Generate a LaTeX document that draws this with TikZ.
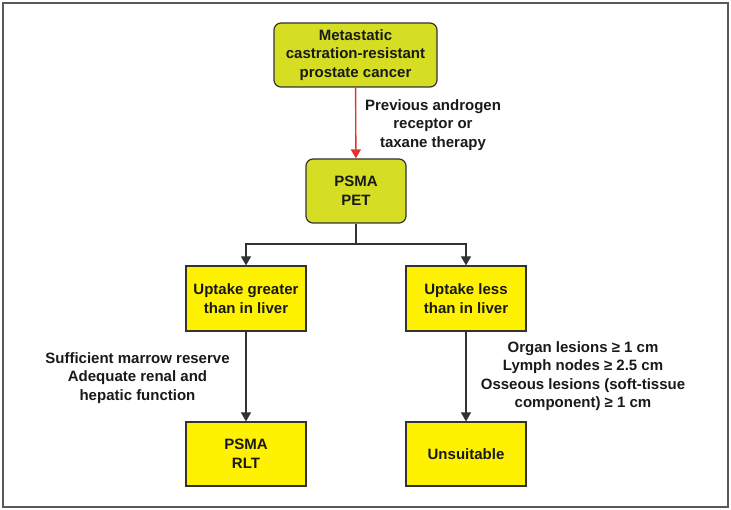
\documentclass[tikz,border=0pt]{standalone}
\usepackage{fontspec}
\setmainfont{Liberation Sans}
\usepackage{tikz}
\usetikzlibrary{arrows.meta,positioning}
\definecolor{limebox}{HTML}{D6DE23}
\definecolor{yelbox}{HTML}{FFF200}
\definecolor{edgegray}{HTML}{333333}
\definecolor{redarrow}{HTML}{E53228}

\begin{document}
\begin{tikzpicture}[x=1pt, y=-1pt, line width=1.2pt,
    every node/.style={font=\fontsize{15}{18.5}\selectfont\bfseries, align=center, text=black!90},
    limenode/.style={draw=edgegray, fill=limebox, rounded corners=7pt, inner sep=0pt},
    yelnode/.style={draw=edgegray, fill=yelbox, inner sep=0pt},
    tip/.style={-{Triangle[width=10pt,length=9pt]}}]
   \useasboundingbox (0,0) rectangle (731,510);
   \draw[black!65, line width=1.5pt] (3,3) rectangle (728,507);
   % boxes
   \node (mcrpc) at (355.5,55) [limenode, minimum width=163pt, minimum height=64pt] {Metastatic\\castration-resistant\\prostate cancer};
   \node (pet) at (356,191) [limenode, minimum width=100pt, minimum height=64pt] {PSMA\\PET};
   \node (high) at (246,298.5) [yelnode, minimum width=120pt, minimum height=65pt] {Uptake greater\\than in liver};
   \node (low) at (466,298.5) [yelnode, minimum width=120pt, minimum height=65pt] {Uptake less\\than in liver};
   \node (rlt) at (246,454) [yelnode, minimum width=120pt, minimum height=64pt] {PSMA\\RLT};
   \node (unfit) at (466,454) [yelnode, minimum width=120pt, minimum height=64pt] {Unsuitable};
   % labels
   \node (prior) at (433,125) {Previous androgen\\receptor or\\taxane therapy};
   \node (reserve) at (137.5,378) {Sufficient marrow reserve\\Adequate renal and\\hepatic function};
   \node (criteria) at (583,376) {Organ lesions ≥ 1 cm\\Lymph nodes ≥ 2.5 cm\\Osseous lesions (soft-tissue\\component) ≥ 1 cm};
   % connectors
   \coordinate (split) at (356,244);
   \draw[tip, redarrow, line width=1.4pt] (mcrpc) -- (pet);
   \draw[edgegray] (pet) -- (split);
   \draw[tip, edgegray] (split) -| (high);
   \draw[tip, edgegray] (split) -| (low);
   \draw[tip, edgegray] (high) -- (rlt);
   \draw[tip, edgegray] (low) -- (unfit);
\end{tikzpicture}
\end{document}
